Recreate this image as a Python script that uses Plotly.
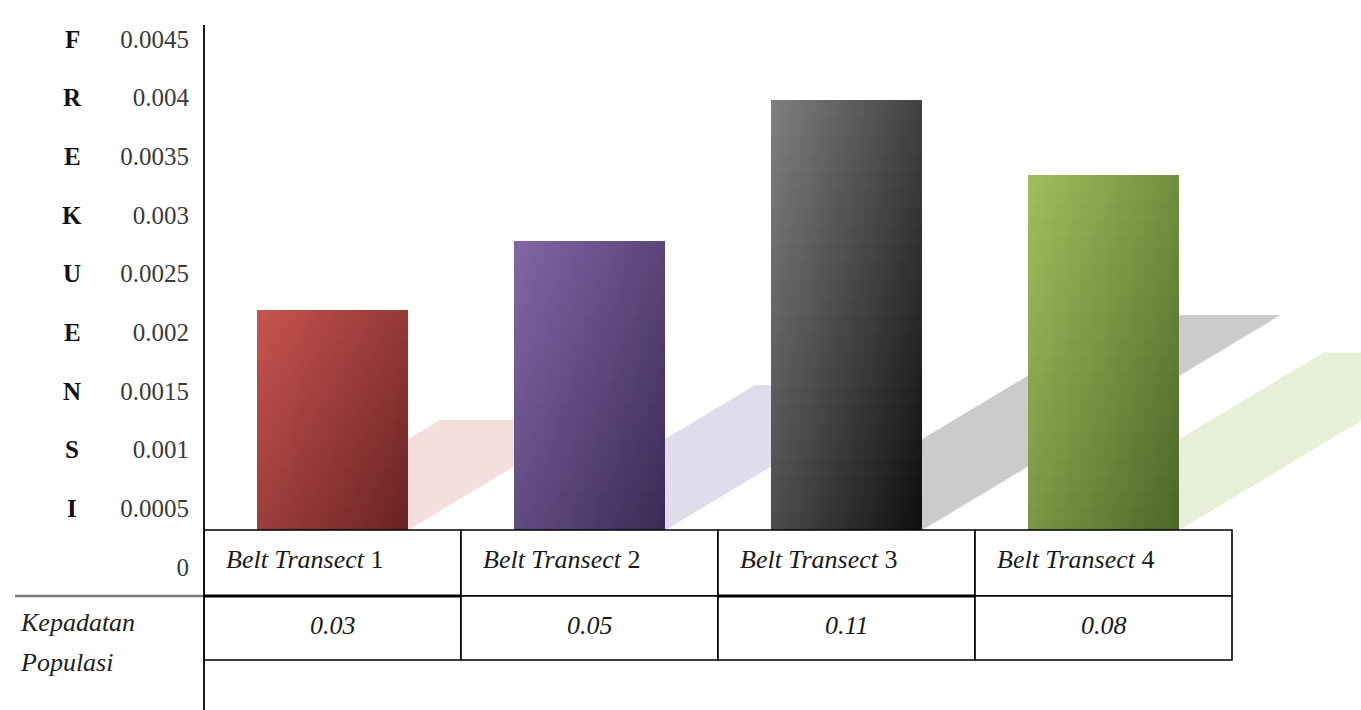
import plotly.graph_objects as go

# ---------------- data ----------------
CATEGORIES = ["Belt Transect 1", "Belt Transect 2", "Belt Transect 3", "Belt Transect 4"]
FREKUENSI = [0.00219, 0.00278, 0.00398, 0.00334]
KEPADATAN = ["0.03", "0.05", "0.11", "0.08"]
TICK_VALS = [0, 0.0005, 0.001, 0.0015, 0.002, 0.0025, 0.003, 0.0035, 0.004, 0.0045]
TICK_TEXT = ["0", "0.0005", "0.001", "0.0015", "0.002", "0.0025", "0.003", "0.0035", "0.004", "0.0045"]
AXIS_LETTERS = ["F", "R", "E", "K", "U", "E", "N", "S", "I"]  # top to bottom
ROW_LABEL = ["Kepadatan", "Populasi"]

# ---------------- styles ----------------
LIGHT = [(200, 84, 80), (132, 102, 166), (128, 128, 128), (160, 192, 92)]
DARK = [(104, 34, 34), (58, 42, 84), (14, 14, 14), (76, 102, 40)]
SHADOW = ["rgba(238,200,200,0.6)", "rgba(214,208,230,0.75)", "rgba(190,190,190,0.8)", "rgba(226,236,208,0.8)"]

W, H = 1361, 710
PLOT_L, PLOT_T = 204, 25
ZERO_PX, TOP_TICK_PX = 567, 39
BASE_PX = 530           # top of the table (visible bar base)
COL_PX = 257            # pixel width per category
BAR_W = 0.59
SERIF = "'Liberation Serif', 'Times New Roman', Times, 'DejaVu Serif', serif"

ppu_y = (ZERO_PX - TOP_TICK_PX) / TICK_VALS[-1]
y_range = [-(H - ZERO_PX) / ppu_y, (ZERO_PX - PLOT_T) / ppu_y]
x_range = [-0.5, -0.5 + (W - PLOT_L) / COL_PX]
base_v = (ZERO_PX - BASE_PX) / ppu_y
SHEAR = ppu_y / (0.6 * COL_PX)   # x-units per y-unit of shadow height


def yp(py):
    return (H - py) / (H - PLOT_T)


def xp(px):
    return (px - PLOT_L) / (W - PLOT_L)


def mix(a, b, t):
    t = max(0.0, min(1.0, t))
    return "rgb(%d,%d,%d)" % tuple(round(a[i] + (b[i] - a[i]) * t) for i in range(3))


X = list(range(len(CATEGORIES)))
fig = go.Figure()

# solid base bars
fig.add_trace(go.Bar(x=X, y=FREKUENSI, width=BAR_W,
                     marker=dict(color=[mix(LIGHT[k], DARK[k], 0.5) for k in X], line=dict(width=0)),
                     hoverinfo="skip"))

# gradient slices (diagonal gradient: light top-left -> dark bottom-right)
NX, NY = 26, 26
for i in range(NX):
    tx = (i + 0.5) / NX
    for j in range(NY):
        cols = []
        for k, v in enumerate(FREKUENSI):
            vc = v * (j + 0.5) / NY
            ty = 1 - (vc - base_v) / (v - base_v)
            cols.append(mix(LIGHT[k], DARK[k], 0.55 * tx + 0.45 * ty))
        fig.add_trace(go.Bar(
            x=X, y=[v / NY for v in FREKUENSI], base=[v * j / NY for v in FREKUENSI],
            width=BAR_W / NX, offset=-BAR_W / 2 + i * BAR_W / NX,
            marker=dict(color=cols, line=dict(width=0)), hoverinfo="skip"))

shapes = []
# shadows
for k, v in enumerate(FREKUENSI):
    top = base_v + (v - base_v) / 2
    dx = (top - base_v) * SHEAR
    x0, x1 = k - BAR_W / 2, k + BAR_W / 2
    path = "M %f,%f L %f,%f L %f,%f L %f,%f Z" % (x0, base_v, x1, base_v, x1 + dx, top, x0 + dx, top)
    shapes.append(dict(type="path", path=path, xref="x", yref="y", layer="below",
                       fillcolor=SHADOW[k], line=dict(width=0)))

# table
for k in X:
    for (ya, yb) in [(596, 530), (660, 596)]:
        shapes.append(dict(type="rect", xref="x", yref="paper", x0=k - 0.5, x1=k + 0.5,
                           y0=yp(ya), y1=yp(yb), fillcolor="white",
                           line=dict(color="black", width=1.6), layer="above"))
for k in (0, 2):
    shapes.append(dict(type="line", xref="x", yref="paper", x0=k - 0.5, x1=k + 0.5,
                       y0=yp(596), y1=yp(596), line=dict(color="black", width=3), layer="above"))
shapes.append(dict(type="line", xref="paper", yref="paper", x0=xp(15), x1=0,
                   y0=yp(596), y1=yp(596), line=dict(color="#7a7a7a", width=2.5)))
shapes.append(dict(type="line", xref="paper", yref="paper", x0=0, x1=0,
                   y0=0, y1=1, line=dict(color="black", width=1.8), layer="above"))

annotations = []
for letter, val in zip(AXIS_LETTERS, TICK_VALS[1:][::-1]):
    annotations.append(dict(x=xp(72), xref="paper", y=val, yref="y", text="<b>%s</b>" % letter,
                            showarrow=False, xanchor="center", yanchor="middle",
                            font=dict(family=SERIF, size=25, color="#111111")))
for txt, py in zip(ROW_LABEL, [622, 662]):
    annotations.append(dict(x=xp(18), xref="paper", y=yp(py), yref="paper", text="<i>%s</i>" % txt,
                            showarrow=False, xanchor="left", yanchor="middle",
                            font=dict(family=SERIF, size=26, color="#222222")))
for k, cat in enumerate(CATEGORIES):
    name, num = cat.rsplit(" ", 1)
    annotations.append(dict(x=k - 0.5, xref="x", xshift=20, y=yp(559), yref="paper",
                            text="<i>%s</i> %s" % (name, num), showarrow=False,
                            xanchor="left", yanchor="middle",
                            font=dict(family=SERIF, size=26, color="#1a1a1a")))
    annotations.append(dict(x=k, xref="x", y=yp(625), yref="paper",
                            text="<i>%s</i>" % KEPADATAN[k], showarrow=False,
                            xanchor="center", yanchor="middle",
                            font=dict(family=SERIF, size=26, color="#1a1a1a")))

fig.update_layout(
    width=W, height=H,
    margin=dict(l=PLOT_L, r=0, t=PLOT_T, b=0),
    paper_bgcolor="white", plot_bgcolor="white",
    barmode="overlay", showlegend=False, hovermode=False,
    bargap=0,
    xaxis=dict(range=x_range, showticklabels=False, showgrid=False, zeroline=False,
               showline=False, fixedrange=True),
    yaxis=dict(range=y_range, tickvals=TICK_VALS, ticktext=TICK_TEXT, showgrid=False,
               zeroline=False, showline=False, ticks="", ticklabelstandoff=14,
               tickfont=dict(family=SERIF, size=25, color="#3a3a3a"), fixedrange=True),
    shapes=shapes, annotations=annotations,
)

fig.write_html("out.html")
